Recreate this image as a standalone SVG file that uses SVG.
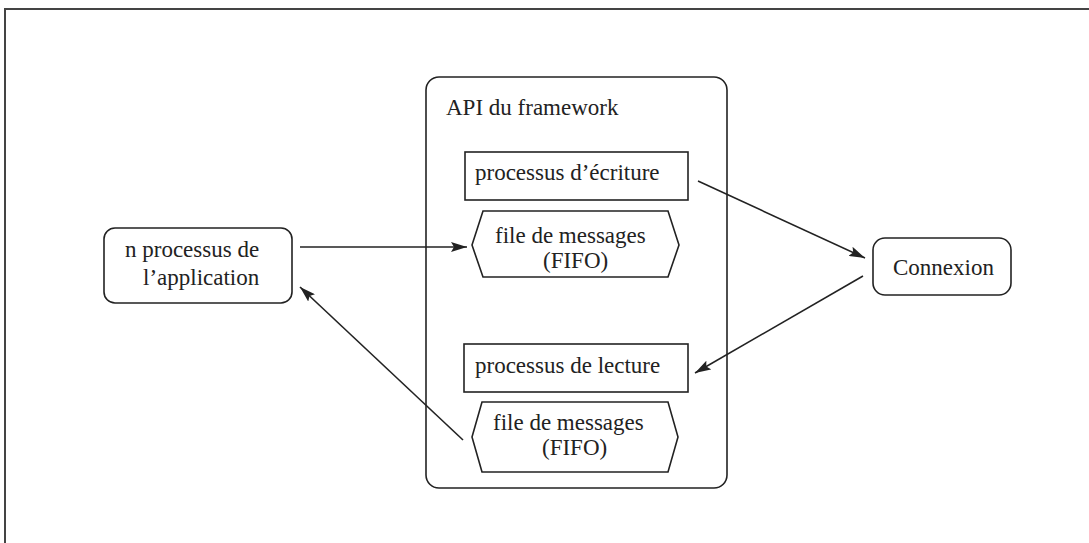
<svg xmlns="http://www.w3.org/2000/svg" width="1089" height="543" viewBox="0 0 1089 543">
<defs>
<marker id="ah" viewBox="0 0 16 10" refX="16" refY="5" markerWidth="16" markerHeight="10" markerUnits="userSpaceOnUse" orient="auto">
<path d="M0,0 L16,5 L0,10 L3,5 Z" fill="#222"/>
</marker>
<style>
.box{fill:#fff;stroke:#222;stroke-width:1.6}
.t{font-family:"Liberation Serif","Times New Roman",serif;font-size:23px;fill:#222}
.c{fill:none;stroke:#222;stroke-width:1.6;marker-end:url(#ah)}
</style>
</defs>
<rect width="1089" height="543" fill="#fff"/>
<g id="frame">
<path d="M5,543 L5,9 L1089,9" fill="none" stroke="#444" stroke-width="2"/>
</g>
<g id="api">
<rect class="box" x="426" y="77" width="301" height="411" rx="13"/>
<text class="t" x="446" y="115">API du framework</text>
</g>
<g id="ecriture">
<rect class="box" x="465" y="152" width="223" height="48"/>
<text class="t" x="475" y="180">processus d’écriture</text>
</g>
<g id="fifo1">
<polygon class="box" points="483,211 668,211 679,245 668,277 483,277 472,245"/>
<text class="t" x="495" y="243">file de messages</text>
<text class="t" x="543" y="268">(FIFO)</text>
</g>
<g id="lecture">
<rect class="box" x="464" y="344" width="224" height="48"/>
<text class="t" x="475" y="373">processus de lecture</text>
</g>
<g id="fifo2">
<polygon class="box" points="482,402 668,402 678,437 668,472 482,472 472,437"/>
<text class="t" x="493" y="430">file de messages</text>
<text class="t" x="542" y="455">(FIFO)</text>
</g>
<g id="app">
<rect class="box" x="104" y="228" width="188" height="75" rx="11"/>
<text class="t" x="125" y="257">n processus de</text>
<text class="t" x="143" y="285">l’application</text>
</g>
<g id="connexion">
<rect class="box" x="873" y="238" width="138" height="57" rx="12"/>
<text class="t" x="893" y="275">Connexion</text>
</g>
<g id="connectors">
<line class="c" x1="300" y1="247" x2="467" y2="247"/>
<line class="c" x1="463" y1="440" x2="300" y2="287"/>
<line class="c" x1="698" y1="181" x2="865" y2="258"/>
<line class="c" x1="863" y1="276" x2="695" y2="373"/>
</g>
</svg>
